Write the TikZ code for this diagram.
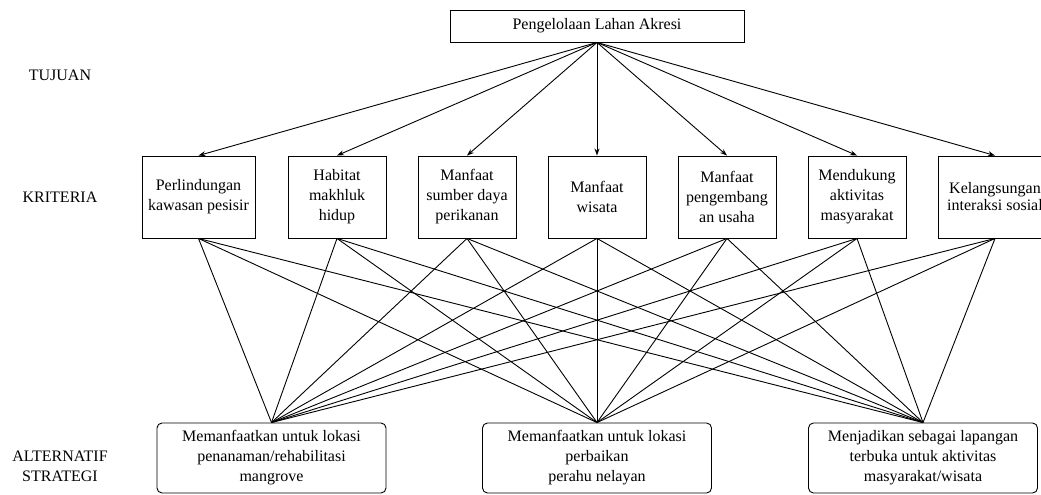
\documentclass[tikz,border=0pt]{standalone}
\usepackage{fontspec}
\setmainfont{Liberation Serif}
\usetikzlibrary{arrows.meta}
\tikzset{
    kotak/.style={draw, align=center, minimum width=98, minimum height=82, inner sep=2pt},
    alt/.style={draw, rounded corners=5, align=center, minimum width=229, minimum height=70},
    panah/.style={-{Stealth[length=7pt, width=5pt]}},
}
\begin{document}
\begin{tikzpicture}[x=1pt, y=-1pt, font=\fontsize{16}{20}\selectfont, line width=0.9pt]
    \clip (0,0) rectangle (1041,495);
    % Level labels
    \node (lv1) at (60,75) {TUJUAN};
    \node (lv2) at (60,197) {KRITERIA};
    \node[align=center] (lv3) at (60,466) {ALTERNATIF\\STRATEGI};

    % Goal
    \node[draw, minimum width=294, minimum height=32] (tujuan) at (597,26) {Pengelolaan Lahan Akresi};

    % Criteria
    \node[kotak, minimum width=113] (k1) at (198.5,197) {Perlindungan\\kawasan pesisir};
    \node[kotak] (k2) at (337,197) {Habitat\\makhluk\\hidup};
    \node[kotak] (k3) at (467,197) {Manfaat\\sumber daya\\perikanan};
    \node[kotak] (k4) at (597,197) {Manfaat\\wisata};
    \node[kotak] (k5) at (727,197) {Manfaat\\pengembang\\an usaha};
    \node[kotak] (k6) at (857,197) {Mendukung\\aktivitas\\masyarakat};
    \node[kotak, minimum width=114, font=\fontsize{16}{17}\selectfont] (k7) at (995,197) {Kelangsungan\\interaksi sosial};

    % Alternatives
    \node[alt] (a1) at (271.5,458) {Memanfaatkan untuk lokasi\\penanaman/rehabilitasi\\mangrove};
    \node[alt] (a2) at (597,458) {Memanfaatkan untuk lokasi\\perbaikan\\perahu nelayan};
    \node[alt] (a3) at (923,458) {Menjadikan sebagai lapangan\\terbuka untuk aktivitas\\masyarakat/wisata};

    % Goal -> criteria
    \foreach \i in {1,...,7}
        \draw[panah] (tujuan.south) -- (k\i.north);
    % Criteria -> alternatives
    \foreach \i in {1,...,7}
        \foreach \j in {1,2,3}
            \draw (k\i.south) -- (a\j.north);
\end{tikzpicture}
\end{document}
